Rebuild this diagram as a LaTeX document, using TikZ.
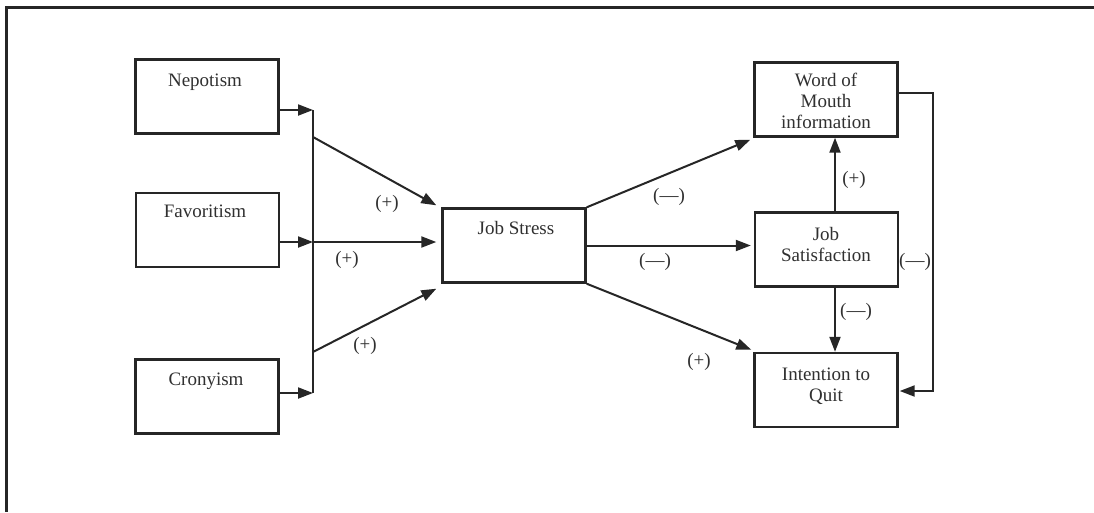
\documentclass[tikz,border=0pt]{standalone}
\usepackage{fontspec}
\setmainfont{Liberation Serif}
\usetikzlibrary{arrows.meta,calc}
\definecolor{ink}{HTML}{262626}
\definecolor{txt}{HTML}{303030}
\begin{document}
\begin{tikzpicture}[x=1pt,y=-1pt,
  box/.style={draw=ink,line width=2.4pt,minimum width=143pt,minimum height=74pt,inner sep=0pt},
  ttl/.style={anchor=north,inner sep=0pt,align=center,text=txt,font=\fontsize{19}{21}\selectfont},
  lbl/.style={inner sep=0pt,text=txt,font=\fontsize{19}{21}\selectfont},
  ln/.style={draw=ink,line width=2pt},
  arr/.style={ln,-{Triangle[length=15pt,width=11pt]}}]
\useasboundingbox (0,0) rectangle (1094,512);
\fill[white] (0,0) rectangle (1094,512);
% frame (top and left)
\draw[ink,line width=3pt] (1094,7) -- (6,7) -- (6,512);
% boxes
\node[box] (nep) at (207,96.5) {};
\node[box] (fav) at (207.5,230) {};
\node[box] (cro) at (207,396.5) {};
\node[box] (js) at (514,245.5) {};
\node[box] (wom) at (826,99.5) {};
\node[box] (sat) at (826.5,249.5) {};
\node[box] (iq) at (826,390) {};
% titles
\node[ttl] (tnep) at (205,73.5) {Nepotism};
\node[ttl] (tfav) at (205,204.5) {Favoritism};
\node[ttl] (tcro) at (206,372.5) {Cronyism};
\node[ttl] (tjs) at (516,221.5) {Job Stress};
\node[ttl] (twom) at (826,72.5) {Word of\\Mouth\\information};
\node[ttl] (tsat) at (826,227.5) {Job\\Satisfaction};
\node[ttl] (tiq) at (826,367.5) {Intention to\\Quit};
% bus coordinates
\coordinate (b1) at (313,110);
\coordinate (b2) at (313,242);
\coordinate (b3) at (313,393);
\coordinate (b4) at (313,137);
\coordinate (b5) at (313,352);
\coordinate (v) at (835,0);
\coordinate (r1) at (933,93);
\coordinate (r2) at (933,391);
% left connectors
\draw[arr] (nep.east |- b1) -- (b1);
\draw[arr] (fav.east |- b2) -- (b2);
\draw[arr] (cro.east |- b3) -- (b3);
\draw[ln] (b1) -- (b3);
\draw[arr] (b2) -- ($(b2 -| js.west)+(-5,0)$);
\draw[arr] (b4) -- ([shift={(-5,-2)}]js.north west);
\draw[arr] (b5) -- ([shift={(-5,5)}]js.south west);
% right connectors
\draw[arr] (js.north east) -- ([shift={(-3,2)}]wom.south west);
\draw[arr] (js.east) -- ($(js.east -| sat.west)+(-3,0)$);
\draw[arr] (js.south east) -- ([shift={(-2,-2)}]iq.north west);
\draw[arr] (sat.north -| v) -- (wom.south -| v);
\draw[arr] (sat.south -| v) -- (iq.north -| v);
\draw[arr] (wom.east |- r1) -- (r1) -- (r2) -- ($(iq.east |- r2)+(1,0)$);
% labels
\node[lbl] (l1) at (387,204) {(+)};
\node[lbl] (l2) at (347,260) {(+)};
\node[lbl] (l3) at (365,346) {(+)};
\node[lbl] (l4) at (669,197) {(—)};
\node[lbl] (l5) at (655,262) {(—)};
\node[lbl] (l6) at (699,362) {(+)};
\node[lbl] (l7) at (854,180) {(+)};
\node[lbl] (l8) at (856,312) {(—)};
\node[lbl] (l9) at (915,262) {(—)};
\end{tikzpicture}
\end{document}
